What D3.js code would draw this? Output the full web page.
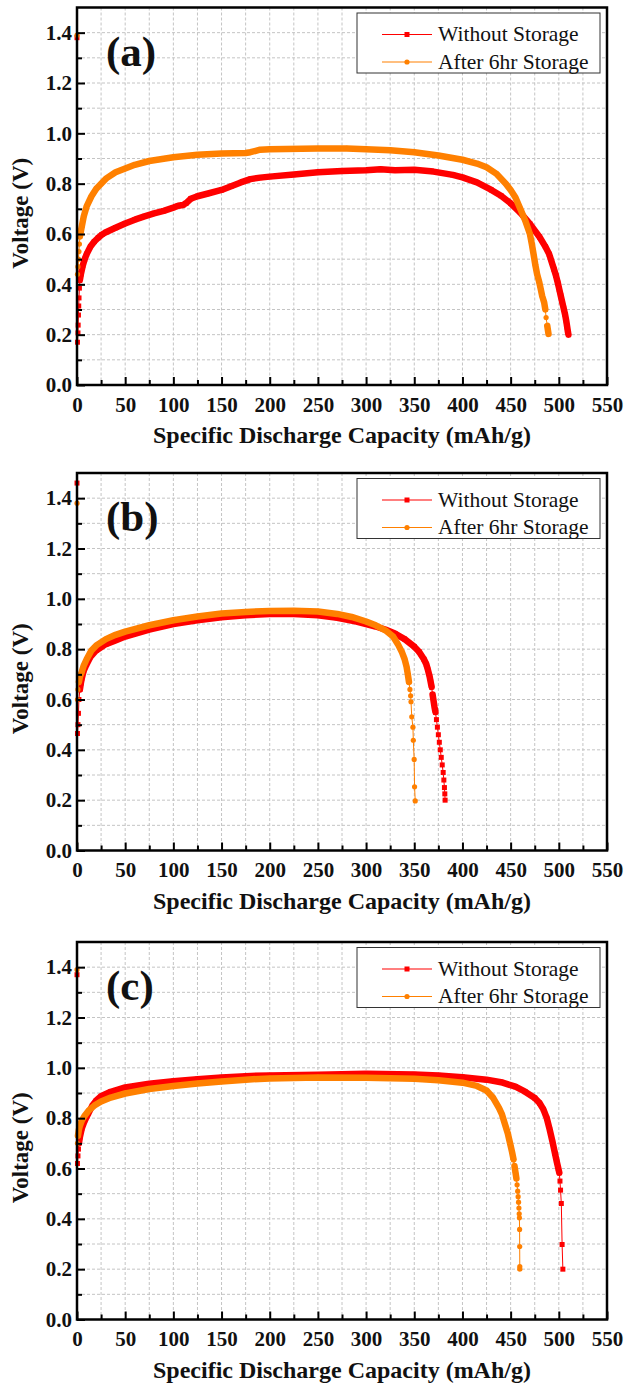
<!DOCTYPE html>
<html>
<head>
<meta charset="utf-8">
<script src="https://cdn.jsdelivr.net/npm/d3@7"></script>
<style>
  html, body { margin: 0; padding: 0; background: #fff; }
  svg { display: block; }
  text { font-family: "Liberation Serif", "Times New Roman", serif; }
</style>
</head>
<body>
<svg id="fig" width="624" height="1388"></svg>
<script>
// Discharge curves: [specific capacity (mAh/g), voltage (V)]
const withoutStorageA = [[0,1.38],[0.5,0.17],[1,0.207],[1.2,0.238],[1.5,0.278],[1.8,0.314],[2.1,0.346],[2.5,0.385],[3,0.417],[4,0.44],[6,0.475],[8,0.5],[10,0.52],[14,0.55],[18,0.57],[22,0.585],[26,0.598],[30,0.607],[40,0.625],[50,0.642],[60,0.657],[70,0.67],[80,0.682],[90,0.692],[100,0.705],[105,0.712],[110,0.715],[113,0.722],[118,0.74],[125,0.75],[135,0.76],[150,0.775],[160,0.79],[170,0.805],[180,0.818],[190,0.824],[200,0.828],[225,0.836],[250,0.845],[275,0.85],[300,0.853],[315,0.857],[330,0.853],[350,0.855],[370,0.848],[390,0.835],[400,0.825],[415,0.805],[430,0.775],[440,0.752],[450,0.722],[460,0.685],[470,0.64],[480,0.588],[486,0.55],[490,0.52],[492.5,0.49],[495,0.46],[497,0.435],[499,0.405],[500.5,0.38],[502,0.355],[503.5,0.33],[505,0.305],[506.5,0.28],[507.7,0.255],[508.7,0.23],[509.5,0.21],[510,0.2]];
const afterStorageA = [[0,1.39],[0.5,0.44],[1,0.47],[1.5,0.5],[2,0.53],[2.5,0.56],[3,0.59],[4,0.61],[5,0.63],[7,0.67],[10,0.71],[15,0.75],[20,0.78],[25,0.8],[30,0.82],[40,0.845],[50,0.86],[60,0.875],[75,0.89],[100,0.905],[125,0.915],[150,0.92],[175,0.922],[180,0.925],[190,0.935],[200,0.937],[250,0.94],[280,0.94],[300,0.937],[325,0.933],[350,0.925],[375,0.912],[400,0.895],[415,0.88],[425,0.865],[435,0.84],[445,0.8],[450,0.775],[455,0.745],[460,0.7],[465,0.655],[470,0.6],[472,0.56],[474,0.515],[475.7,0.475],[477.5,0.44],[479.8,0.407],[481.3,0.38],[482.7,0.354],[484.8,0.328],[486,0.30],[486.8,0.268],[488,0.235],[489.3,0.203]];

const withoutStorageB = [[0,1.46],[0.5,0.465],[1,0.5],[1.5,0.545],[2,0.6],[3,0.64],[4,0.665],[5,0.685],[7,0.715],[10,0.74],[14,0.77],[20,0.795],[30,0.82],[40,0.835],[50,0.85],[75,0.878],[100,0.9],[125,0.915],[150,0.927],[175,0.935],[200,0.94],[225,0.94],[250,0.935],[270,0.925],[290,0.91],[310,0.89],[320,0.878],[330,0.862],[340,0.84],[350,0.81],[355,0.79],[360,0.76],[362.5,0.74],[364,0.72],[366,0.69],[367,0.67],[368,0.65],[369,0.62],[370,0.595],[371,0.57],[372,0.55],[373,0.52],[374,0.49],[375,0.46],[376,0.43],[377,0.40],[378,0.37],[379,0.34],[380,0.31],[380.7,0.28],[381.3,0.25],[381.7,0.225],[382,0.20]];
const afterStorageB = [[0,1.38],[0.5,0.6],[1,0.64],[2,0.67],[3,0.69],[5,0.71],[7,0.735],[10,0.76],[15,0.795],[20,0.815],[30,0.84],[40,0.857],[50,0.87],[75,0.895],[100,0.915],[125,0.93],[150,0.942],[175,0.948],[200,0.952],[225,0.953],[250,0.95],[270,0.94],[285,0.928],[300,0.91],[310,0.895],[320,0.875],[328,0.85],[333,0.82],[337,0.79],[340,0.76],[342,0.73],[343.3,0.7],[344.5,0.67],[345.5,0.64],[346.2,0.615],[346.6,0.591],[347.4,0.531],[348.6,0.49],[349,0.438],[349.9,0.362],[350.3,0.253],[351,0.197]];

const withoutStorageC = [[0,1.37],[0.5,0.62],[1,0.65],[1.5,0.677],[2,0.7],[3,0.725],[5,0.76],[8,0.79],[12,0.82],[16,0.85],[20,0.87],[25,0.887],[35,0.905],[50,0.922],[75,0.937],[100,0.947],[125,0.955],[150,0.962],[175,0.967],[200,0.97],[250,0.973],[300,0.976],[350,0.974],[375,0.97],[400,0.963],[425,0.953],[440,0.943],[455,0.925],[465,0.905],[475,0.88],[480,0.86],[484,0.835],[487.5,0.80],[490.5,0.755],[493.5,0.705],[496,0.66],[498,0.625],[499.5,0.6],[500.5,0.583],[501.2,0.55],[501.8,0.514],[502.6,0.461],[503.4,0.298],[504.2,0.2]];
const afterStorageC = [[0,1.39],[0.5,0.7],[1,0.73],[2,0.755],[3,0.77],[5,0.79],[8,0.81],[12,0.83],[18,0.85],[25,0.866],[35,0.882],[50,0.898],[75,0.916],[100,0.928],[125,0.938],[150,0.946],[175,0.953],[200,0.958],[250,0.962],[300,0.961],[350,0.957],[375,0.951],[400,0.941],[415,0.928],[425,0.91],[432,0.88],[438,0.84],[441,0.815],[443,0.79],[445,0.765],[447,0.74],[448.5,0.715],[450,0.69],[451.5,0.665],[453,0.636],[454,0.61],[455,0.585],[456,0.56],[456.7,0.535],[457.3,0.51],[457.8,0.488],[458.2,0.466],[458.6,0.443],[458.9,0.42],[459.1,0.404],[459.3,0.358],[459.4,0.29],[459.5,0.21],[459.5,0.2]];

const panelLabels = ["(a)", "(b)", "(c)"];
const seriesNames = ["Without Storage", "After 6hr Storage"];
const xTicks = d3.range(0, 551, 50);
const xMinorTicks = d3.range(25, 550, 50);
const yTicks = [0, 0.2, 0.4, 0.6, 0.8, 1.0, 1.2, 1.4];
const yMinorTicks = [0.1, 0.3, 0.5, 0.7, 0.9, 1.1, 1.3];
const xTitle = "Specific Discharge Capacity (mAh/g)";
const yTitle = "Voltage (V)";

const panels = [
  { label: panelLabels[0], series: [withoutStorageA, afterStorageA] },
  { label: panelLabels[1], series: [withoutStorageB, afterStorageB] },
  { label: panelLabels[2], series: [withoutStorageC, afterStorageC] }
];

const colors = ["#ff0000", "#ff8000"];
const panelTops = [7.5, 473, 942];
const plotH = 377.5;
const left = 77, right = 607;
const svg = d3.select("#fig");

const x = d3.scaleLinear().domain([0, 550]).range([left, right]);

// square marker for the first series, circle for the second
function drawMarkers(g, pts, i, xs, ys) {
  if (i === 0) {
    g.selectAll("rect.m").data(pts).join("rect").attr("class", "m")
      .attr("x", d => xs(d[0]) - 2.5).attr("y", d => ys(d[1]) - 2.5)
      .attr("width", 5).attr("height", 5).attr("fill", colors[i]);
  } else {
    g.selectAll("circle.m").data(pts).join("circle").attr("class", "m")
      .attr("cx", d => xs(d[0])).attr("cy", d => ys(d[1]))
      .attr("r", 2.6).attr("fill", colors[i]);
  }
}

panels.forEach((p, pi) => {
  const top = panelTops[pi], bottom = top + plotH;
  const y = d3.scaleLinear().domain([0, 1.5]).range([bottom, top]);
  const g = svg.append("g");

  // dashed grid
  const grid = g.append("g").attr("stroke", "#c4c4c4").attr("stroke-width", 1).attr("stroke-dasharray", "3,2");
  grid.selectAll("line.gx").data(d3.range(25, 550, 25)).join("line").attr("class", "gx")
    .attr("x1", d => x(d)).attr("x2", d => x(d)).attr("y1", top).attr("y2", bottom);
  grid.selectAll("line.gy").data(d3.range(1, 15).map(v => v / 10)).join("line").attr("class", "gy")
    .attr("y1", d => y(d)).attr("y2", d => y(d)).attr("x1", left).attr("x2", right);

  // curves: samples fall roughly every 1 mAh/g, so where the voltage changes slowly
  // the markers merge into a thick band; on steep stretches they stand apart on a thin line
  p.series.forEach((pts, si) => {
    const sg = g.append("g");
    const line = d3.line().x(d => x(d[0])).y(d => y(d[1]));
    sg.append("path").attr("d", line(pts)).attr("fill", "none")
      .attr("stroke", colors[si]).attr("stroke-width", 1);
    const runs = [];
    let cur = null;
    for (let k = 0; k < pts.length - 1; k++) {
      const dCap = Math.abs(pts[k + 1][0] - pts[k][0]);
      const dy = Math.abs(y(pts[k + 1][1]) - y(pts[k][1]));
      const dense = dCap > 0 && dy / dCap <= 6.5;
      if (dense) {
        if (!cur) { cur = [pts[k]]; runs.push(cur); }
        cur.push(pts[k + 1]);
      } else cur = null;
    }
    runs.forEach(r => sg.append("path").attr("d", line(r)).attr("fill", "none")
      .attr("stroke", colors[si]).attr("stroke-width", 6.5)
      .attr("stroke-linejoin", "round").attr("stroke-linecap", "round"));
    drawMarkers(sg, pts, si, x, y);
  });

  // axes with inward ticks
  const fontTick = g => g.selectAll("text").attr("font-family", "Liberation Serif, Times New Roman, serif")
    .attr("font-weight", "bold").attr("font-size", 21).attr("fill", "#111");
  const xa = g.append("g").attr("transform", `translate(0,${bottom})`)
    .call(d3.axisBottom(x).tickValues(xTicks).tickSize(-8).tickPadding(12).tickFormat(d3.format("d")));
  xa.call(fontTick);
  const xm = g.append("g").attr("transform", `translate(0,${bottom})`)
    .call(d3.axisBottom(x).tickValues(xMinorTicks).tickSize(-5).tickFormat(""));
  const ya = g.append("g").attr("transform", `translate(${left},0)`)
    .call(d3.axisLeft(y).tickValues(yTicks).tickSize(-8).tickPadding(5).tickFormat(d3.format(".1f")));
  ya.call(fontTick);
  const ym = g.append("g").attr("transform", `translate(${left},0)`)
    .call(d3.axisLeft(y).tickValues(yMinorTicks).tickSize(-5).tickFormat(""));
  [xa, xm, ya, ym].forEach(a => {
    a.select(".domain").remove();
    a.selectAll("line").attr("stroke", "#000").attr("stroke-width", 2);
  });

  // frame
  g.append("rect").attr("x", left).attr("y", top).attr("width", right - left).attr("height", plotH)
    .attr("fill", "none").attr("stroke", "#000").attr("stroke-width", 2.5);

  // panel label
  g.append("text").attr("x", 106).attr("y", top + 58).attr("font-size", 43).attr("font-weight", "bold")
    .attr("fill", "#111").text(p.label);

  // legend
  const lg = g.append("g");
  lg.append("rect").attr("x", 357).attr("y", top + 5.5).attr("width", 243).attr("height", 60)
    .attr("fill", "#fff").attr("stroke", "#333").attr("stroke-width", 1);
  seriesNames.forEach((name, i) => {
    const base = top + 5.5 + 28 + i * 27.5;
    const cy = base - 6.5;
    lg.append("line").attr("x1", 382).attr("x2", 432).attr("y1", cy).attr("y2", cy)
      .attr("stroke", colors[i]).attr("stroke-width", 1.2);
    drawMarkers(lg, [[407, cy]], i, v => v, v => v);
    lg.append("text").attr("x", 438).attr("y", base).attr("font-size", 21.5).attr("fill", "#111").text(name);
  });

  // axis titles
  g.append("text").attr("x", (left + right) / 2).attr("y", bottom + 58).attr("text-anchor", "middle")
    .attr("font-size", 24).attr("font-weight", "bold").attr("fill", "#111").text(xTitle);
  g.append("text").attr("transform", `translate(28,${(top + bottom) / 2 + 17}) rotate(-90)`)
    .attr("text-anchor", "middle").attr("font-size", 23).attr("font-weight", "bold").attr("fill", "#111").text(yTitle);
});
</script>
</body>
</html>
